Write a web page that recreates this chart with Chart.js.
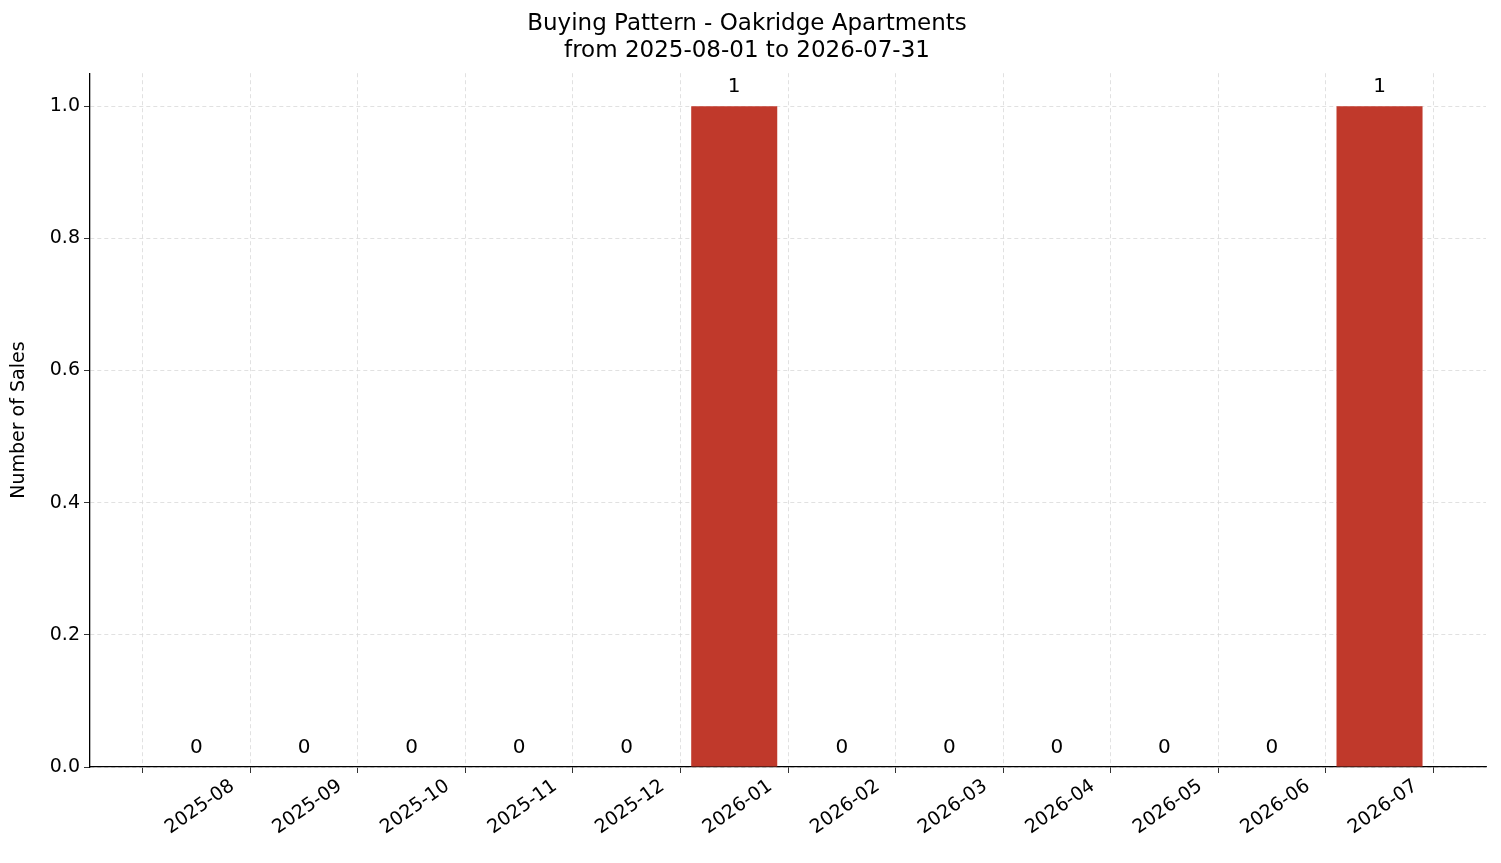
<!DOCTYPE html>
<html><head><meta charset="utf-8">
<script src="https://cdn.jsdelivr.net/npm/chart.js@4"></script>
<style>html,body{margin:0;background:#fff}#w{width:1501px;height:863px}</style>
</head><body><div id="w"><canvas id="c"></canvas></div>
<script>
const months = ["2025-08","2025-09","2025-10","2025-11","2025-12","2026-01","2026-02","2026-03","2026-04","2026-05","2026-06","2026-07"];
const sales = [0,0,0,0,0,1,0,0,0,0,0,1];
const yTicks = [0,0.2,0.4,0.6,0.8,1.0];
const FONT = "'DejaVu Sans', sans-serif";
const labelPlugin = {
  id:'lbl',
  afterDatasetsDraw(chart){
    const ctx=chart.ctx, meta=chart.getDatasetMeta(0);
    ctx.save(); ctx.font="20px "+FONT; ctx.fillStyle="#000"; ctx.textAlign="center"; ctx.textBaseline="bottom";
    meta.data.forEach((b,i)=>{ ctx.fillText(String(sales[i]), b.x, b.y-9); });
    ctx.restore();
  }
};
new Chart(document.getElementById('c'),{
  type:'bar',
  data:{datasets:[{data:sales.map((v,i)=>({x:i,y:v})),backgroundColor:'#c0392b',barPercentage:0.8,categoryPercentage:1}]},
  options:{
    responsive:true,maintainAspectRatio:false,animation:false,
    layout:{padding:{left:8,right:15,top:2,bottom:0}},
    plugins:{legend:{display:false},tooltip:{enabled:false},
      title:{display:true,text:["Buying Pattern - Oakridge Apartments","from 2025-08-01 to 2026-07-31"],color:'#000',font:{family:FONT,size:23,weight:'normal',lineHeight:1.2},padding:{top:8,bottom:8}}},
    scales:{
      x:{type:'linear',min:-0.99,max:11.99,offset:false,
        afterBuildTicks(s){s.ticks=months.map((m,i)=>({value:i}));},
        afterFit(s){s.height=96;},
        ticks:{callback:(v)=>months[v],color:'#000',font:{family:FONT,size:19},maxRotation:35,minRotation:35,autoSkip:false,labelOffset:36,padding:2},
        grid:{color:'#d9d9d9',lineWidth:0.8,tickLength:6,tickColor:'#000'},border:{display:true,color:'#000',width:1.3,dash:[4,3]}},
      y:{min:0,max:1.05,
        afterBuildTicks(s){s.ticks=yTicks.map(v=>({value:v}));},
        afterFit(s){s.width=82;},
        ticks:{callback:(v)=>v.toFixed(1),color:'#000',font:{family:FONT,size:19},padding:4},
        title:{display:true,text:'Number of Sales',color:'#000',font:{family:FONT,size:19},padding:0},
        grid:{color:'#d9d9d9',lineWidth:0.8,tickLength:6,tickColor:'#000'},border:{display:true,color:'#000',width:1.3,dash:[4,3]}}
    }
  },
  plugins:[labelPlugin]
});
</script></body></html>
